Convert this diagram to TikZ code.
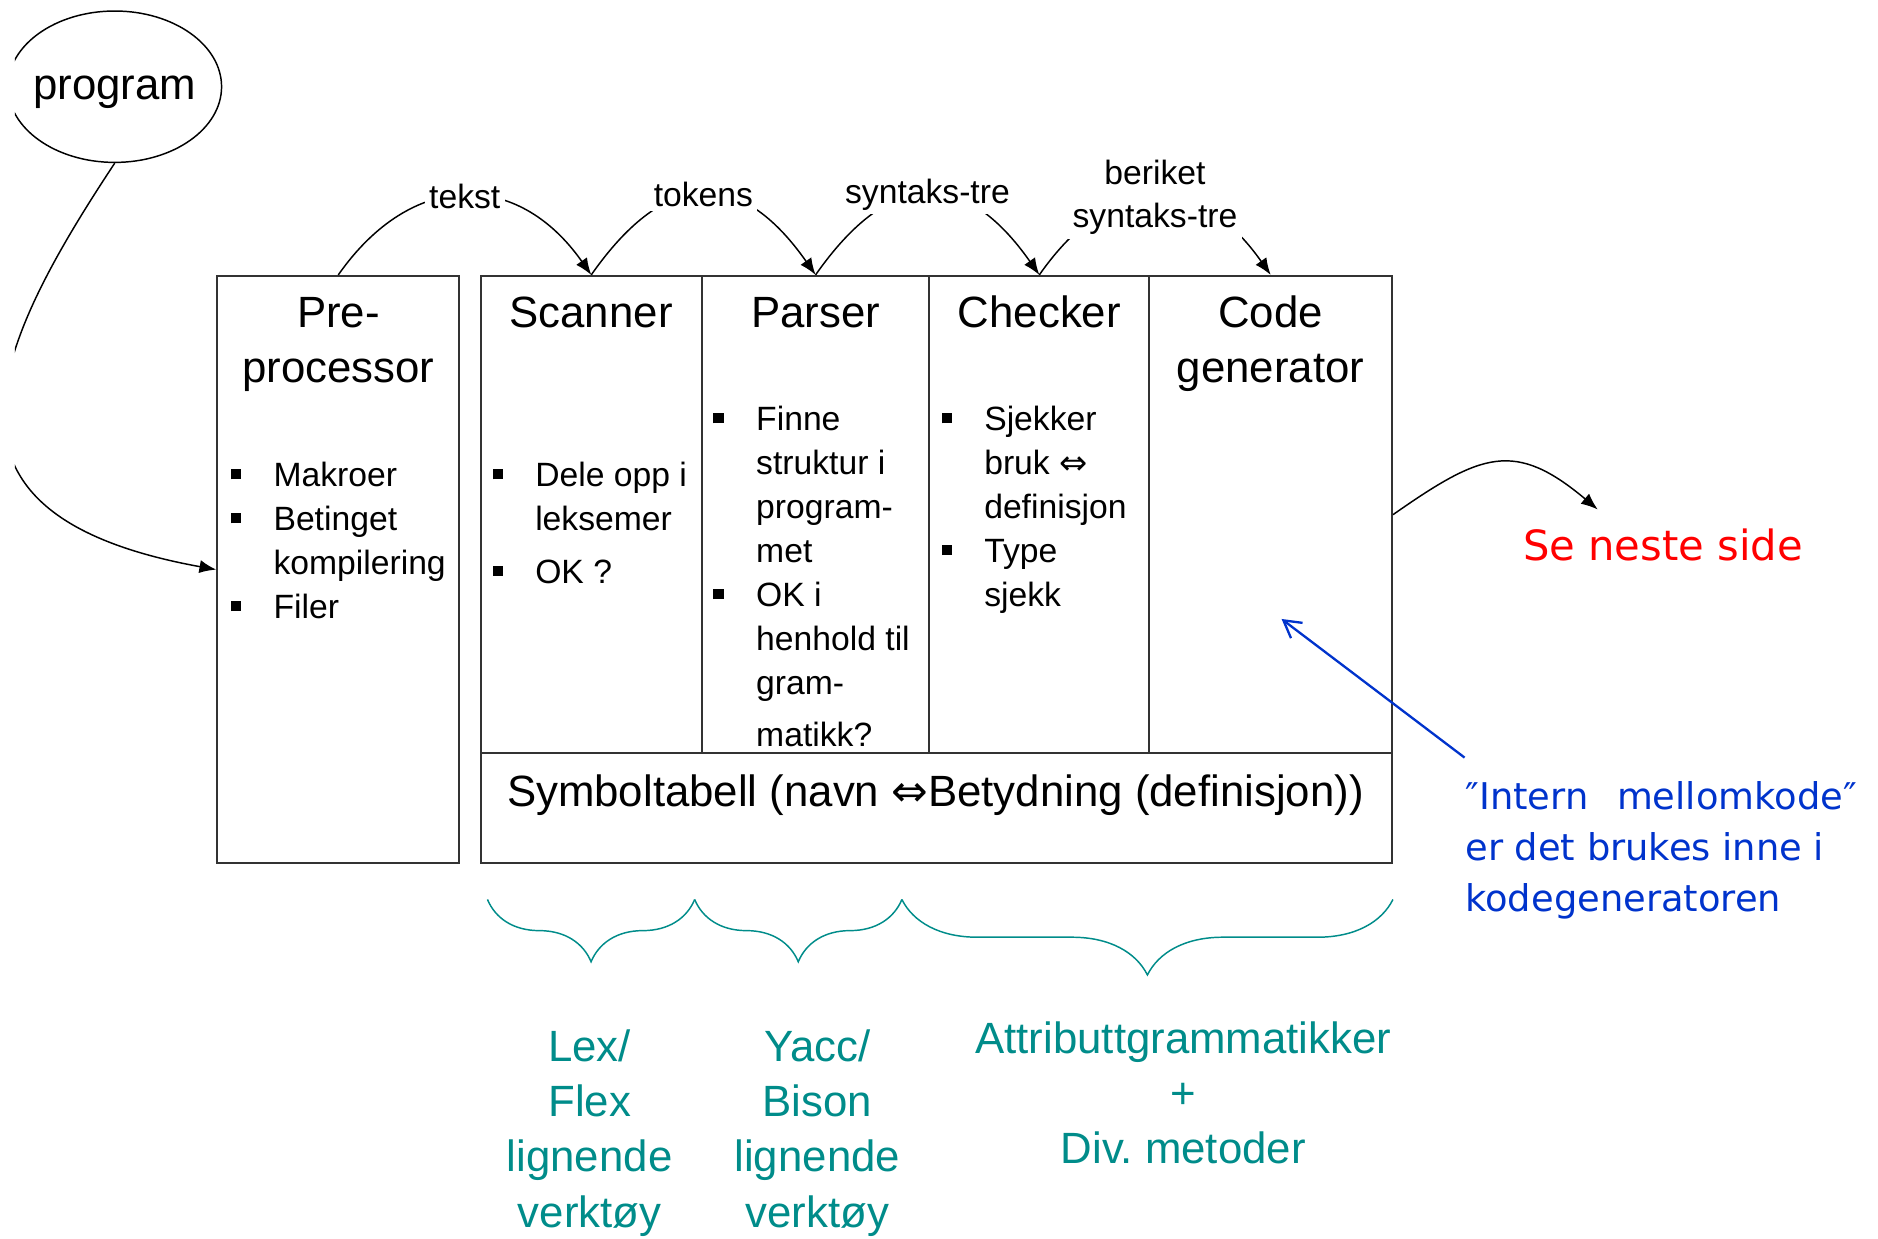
\documentclass[tikz,border=0pt]{standalone}
\usepackage{fontspec}
\setmainfont{Liberation Sans}
\newfontfamily\dvfont{DejaVu Sans}
\usetikzlibrary{arrows.meta,decorations.pathreplacing,shapes.geometric}
\definecolor{tealtxt}{RGB}{0,140,138}
\definecolor{bluetxt}{RGB}{0,51,204}
\definecolor{redtxt}{RGB}{255,0,0}
\newcommand{\hdsize}{\fontsize{10.4pt}{13.1pt}\selectfont}
\newcommand{\smsize}{\fontsize{8pt}{10.44pt}\selectfont}
\newcommand{\notefont}{\dvfont\fontsize{8.75pt}{12.1pt}\selectfont}
\newcommand{\nextfont}{\dvfont\fontsize{9.9pt}{12pt}\selectfont}
\newcommand{\bul}{\rule[0.061cm]{0.084cm}{0.084cm}}
\newcommand{\ekv}{{\dvfont ⇔}}
\begin{document}
\begin{tikzpicture}[
  box/.style={draw=black!80, line width=0.5pt, inner sep=0pt},
  col/.style={box, minimum height=3.986cm},
  hd/.style={font=\hdsize, inner sep=0pt, anchor=base},
  items/.style={font=\smsize, inner sep=0pt, anchor=base west},
  lbl/.style={font=\smsize, fill=white, inner sep=1pt},
  arc/.style={draw, line width=0.35pt, ->, >={Latex[length=1.4mm,width=1.1mm]}},
  tool/.style={font=\hdsize, text=tealtxt, inner sep=0pt, anchor=base},
  brc/.style={draw=tealtxt, line width=0.35pt, decorate, decoration={brace, mirror, amplitude=#1}},
  bluearr/.style={draw=bluetxt, line width=0.55pt, -{Straight Barb[length=1.4mm,width=1.6mm]}},
]
\useasboundingbox (0,0) rectangle (15.68,-10.34);
\clip (0.125,0.2) rectangle (15.9,-10.5);

\node[draw, ellipse, line width=0.35pt, minimum width=1.784cm, minimum height=1.264cm, inner xsep=-0.06cm, inner ysep=0pt, font=\hdsize, text height=0.27cm, text depth=0.05cm] (prog) at (0.958,-0.724) {program};

\node[box, minimum width=2.021cm, minimum height=4.904cm] (pre) at (2.8245,-4.756) {};
\node[col, minimum width=1.847cm] (scan) at (4.9365,-4.297) {};
\node[col, minimum width=1.899cm] (pars) at (6.8095,-4.297) {};
\node[col, minimum width=1.837cm] (chk) at (8.6775,-4.297) {};
\node[col, minimum width=2.026cm] (cgen) at (10.609,-4.297) {};
\node[box, minimum width=7.609cm, minimum height=0.918cm] (symtab) at (7.8175,-6.749) {};

\node[hd] (prehd) at (2.825,-2.733) {\begin{tabular}[t]{@{}c@{}}Pre-\\processor\end{tabular}};
\node[hd] (scanhd) at (4.935,-2.733) {Scanner};
\node[hd] (parshd) at (6.81,-2.733) {Parser};
\node[hd] (chkhd) at (8.678,-2.733) {Checker};
\node[hd] (cgenhd) at (10.608,-2.733) {\begin{tabular}[t]{@{}c@{}}Code\\generator\end{tabular}};

\node[items] (preit) at (1.92,-4.063) {\begin{tabular}[t]{@{}l@{\hspace{0.273cm}}l@{}}\bul & Makroer\\ \bul & Betinget\\ & kompilering\\ \bul & Filer\end{tabular}};
\node[items] (scanit) at (4.105,-4.063) {\begin{tabular}[t]{@{}l@{\hspace{0.273cm}}l@{}}\bul & Dele opp i\\ & leksemer\\[0.073cm] \bul & OK ?\end{tabular}};
\node[items] (parsit) at (5.95,-3.596) {\begin{tabular}[t]{@{}l@{\hspace{0.273cm}}l@{}}\bul & Finne\\ & struktur i\\ & program-\\ & met\\ \bul & OK i\\ & henhold til\\ & gram-\\[0.07cm] & matikk?\end{tabular}};
\node[items] (chkit) at (7.854,-3.596) {\begin{tabular}[t]{@{}l@{\hspace{0.273cm}}l@{}}\bul & Sjekker\\ & bruk \ekv\\ & definisjon\\ \bul & Type\\ & sjekk\end{tabular}};

\node[hd] (symtxt) at (7.81,-6.73) {Symboltabell (navn \ekv Betydning (definisjon))};

\draw[arc] (prog.south) .. controls (-0.14,-3.02) and (-0.65,-4.31) .. (pre.west);
\draw[arc] (pre.north) to[out=55,in=125,looseness=1.3] node[lbl] (tekst) {tekst} (scan.north);
\draw[arc] (scan.north) to[out=55,in=125,looseness=1.5] node[lbl] (tokens) {tokens} (pars.north);
\draw[arc] (pars.north) to[out=55,in=125,looseness=1.5] node[lbl] (stre) {syntaks-tre} (chk.north);
\draw[arc] (chk.north) to[out=55,in=125,looseness=1.4] node[lbl, align=center] (bstre) {beriket\\syntaks-tre} (cgen.north);

\node[font=\nextfont, text=redtxt, inner sep=0pt, anchor=base west] (neste) at (12.71,-4.68) {Se neste side};
\coordinate (senext) at (13.34,-4.254);
\draw[arc] (cgen.east) to[out=35,in=140,looseness=1.35] (senext);

\node[font=\notefont, text=bluetxt, inner xsep=0pt, inner ysep=0.13cm, anchor=base west] (intern) at (12.228,-6.76) {\begin{tabular}[t]{@{}l@{}}″Intern\hspace{0.24cm}mellomkode″\\er det brukes inne i\\kodegeneratoren\end{tabular}};
\coordinate (cgtip) at (10.70,-5.168);
\draw[bluearr] (intern.north west) -- (cgtip);

\draw[brc=0.52cm] (4.07,-7.51) -- (5.80,-7.51);
\draw[brc=0.52cm] (5.80,-7.51) -- (7.53,-7.51);
\draw[brc=0.63cm] (7.53,-7.51) -- (11.63,-7.51);

\node[tool] (lex) at (4.923,-8.864) {\begin{tabular}[t]{@{}c@{}}Lex/\\Flex\\lignende\\verktøy\end{tabular}};
\node[tool] (yacc) at (6.824,-8.864) {\begin{tabular}[t]{@{}c@{}}Yacc/\\Bison\\lignende\\verktøy\end{tabular}};
\node[tool] (attr) at (9.88,-8.795) {\begin{tabular}[t]{@{}c@{}}Attributtgrammatikker\\+\\Div.\ metoder\end{tabular}};
\end{tikzpicture}
\end{document}
